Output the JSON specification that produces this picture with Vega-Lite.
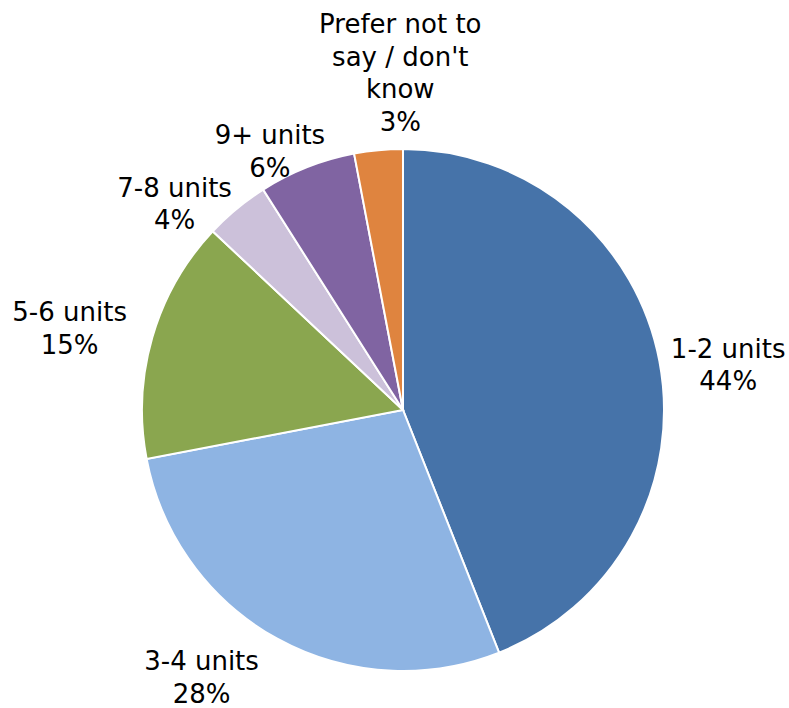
{
  "$schema": "https://vega.github.io/schema/vega-lite/v6.json",
  "autosize": {"type": "none"},
  "padding": {"left": 17, "top": 112, "right": 0, "bottom": 0},
  "width": 772,
  "height": 596,
  "background": "white",
  "config": {"view": {"stroke": null}},
  "data": {
    "values": [
      {"category": "1-2 units", "value": 44, "rank": 1, "label": "1-2 units\n44%"},
      {"category": "3-4 units", "value": 28, "rank": 2, "label": "3-4 units\n28%"},
      {"category": "5-6 units", "value": 15, "rank": 3, "label": "5-6 units\n15%"},
      {"category": "7-8 units", "value": 4, "rank": 4, "label": "7-8 units\n4%"},
      {"category": "9+ units", "value": 6, "rank": 5, "label": "9+ units\n6%"},
      {"category": "Prefer not to say / don't know", "value": 3, "rank": 6, "label": "Prefer not to\nsay / don't\nknow\n3%"}
    ]
  },
  "encoding": {
    "theta": {"field": "value", "type": "quantitative", "stack": true},
    "order": {"field": "rank", "type": "quantitative", "sort": "ascending"}
  },
  "layer": [
    {
      "mark": {"type": "arc", "radius": 261, "stroke": "white", "strokeWidth": 2},
      "encoding": {
        "color": {
          "field": "category",
          "type": "nominal",
          "legend": null,
          "scale": {
            "domain": ["1-2 units", "3-4 units", "5-6 units", "7-8 units", "9+ units", "Prefer not to say / don't know"],
            "range": ["#4673A9", "#8EB4E3", "#8AA64F", "#CCC1DA", "#8064A2", "#DF843F"]
          }
        }
      }
    },
    {
      "mark": {"type": "text", "radius": 328, "dx": 3, "dy": 1, "font": "DejaVu Sans", "fontSize": 26, "lineHeight": 32.5, "lineBreak": "\n", "align": "center", "baseline": "middle", "color": "black"},
      "encoding": {"text": {"condition": {"test": "datum.category === '1-2 units'", "field": "label"}, "value": ""}}
    },
    {
      "mark": {"type": "text", "radius": 331, "dx": -42, "dy": -38, "font": "DejaVu Sans", "fontSize": 26, "lineHeight": 32.5, "lineBreak": "\n", "align": "center", "baseline": "middle", "color": "black"},
      "encoding": {"text": {"condition": {"test": "datum.category === '3-4 units'", "field": "label"}, "value": ""}}
    },
    {
      "mark": {"type": "text", "radius": 343, "dx": -4, "dy": -1, "font": "DejaVu Sans", "fontSize": 26, "lineHeight": 32.5, "lineBreak": "\n", "align": "center", "baseline": "middle", "color": "black"},
      "encoding": {"text": {"condition": {"test": "datum.category === '5-6 units'", "field": "label"}, "value": ""}}
    },
    {
      "mark": {"type": "text", "radius": 305, "dx": -34, "dy": 14, "font": "DejaVu Sans", "fontSize": 26, "lineHeight": 32.5, "lineBreak": "\n", "align": "center", "baseline": "middle", "color": "black"},
      "encoding": {"text": {"condition": {"test": "datum.category === '7-8 units'", "field": "label"}, "value": ""}}
    },
    {
      "mark": {"type": "text", "radius": 291, "dx": -26, "dy": -3, "font": "DejaVu Sans", "fontSize": 26, "lineHeight": 32.5, "lineBreak": "\n", "align": "center", "baseline": "middle", "color": "black"},
      "encoding": {"text": {"condition": {"test": "datum.category === '9+ units'", "field": "label"}, "value": ""}}
    },
    {
      "mark": {"type": "text", "radius": 337, "dx": 29, "dy": -49, "font": "DejaVu Sans", "fontSize": 26, "lineHeight": 32.5, "lineBreak": "\n", "align": "center", "baseline": "middle", "color": "black"},
      "encoding": {"text": {"condition": {"test": "datum.category === 'Prefer not to say / don\\'t know'", "field": "label"}, "value": ""}}
    }
  ]
}
